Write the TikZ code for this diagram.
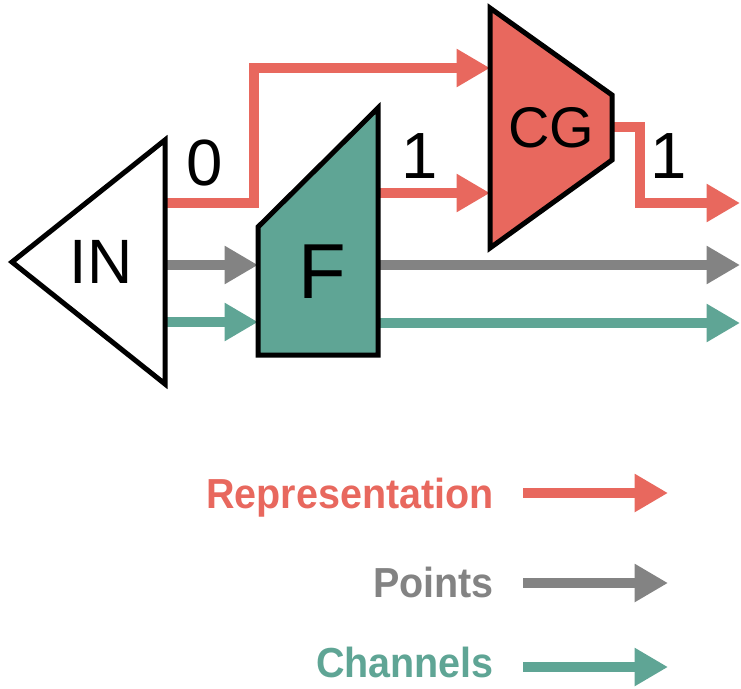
\documentclass[tikz,border=0pt]{standalone}
\usepackage{fontspec}
\usepackage{graphicx}
\setmainfont{Liberation Sans}
\usetikzlibrary{arrows.meta}
\definecolor{cred}{HTML}{E8685E}
\definecolor{cteal}{HTML}{5FA595}
\definecolor{cgray}{HTML}{838383}
\begin{document}
\begin{tikzpicture}[x=0.75pt,y=-0.75pt,
  flow/.style={line width=7.5pt,line join=miter,-{Triangle[length=25pt,width=27pt]}},
  block/.style={line width=3.75pt,line join=miter},
  lab/.style={inner sep=0pt,anchor=base},
  leg/.style={inner sep=0pt,anchor=base east,font=\fontsize{31.5pt}{34pt}\selectfont\bfseries}]
\useasboundingbox (0,0) rectangle (741,688);
% ports
\coordinate (inR) at (165,203);
\coordinate (inG) at (165,265);
\coordinate (inT) at (165,322);
\coordinate (fG) at (258,265);
\coordinate (fT) at (258,322);
\coordinate (fR) at (378,193);
\coordinate (fGo) at (378,265);
\coordinate (fTo) at (378,323);
\coordinate (cgA) at (490,68);
\coordinate (cgB) at (490,193);
\coordinate (cgO) at (612,127);
\coordinate (outR) at (740,203);
\coordinate (outG) at (740,265);
\coordinate (outT) at (740,323);
% connectors
\draw[flow,cred] (inR) -- (254,203) -- (254,68) -- (cgA);
\draw[flow,cred] (fR) -- (cgB);
\draw[flow,cred] (cgO) -- (640,127) -- (640,203) -- (outR);
\draw[flow,cgray] (inG) -- (fG);
\draw[flow,cteal] (inT) -- (fT);
\draw[flow,cgray] (fGo) -- (outG);
\draw[flow,cteal] (fTo) -- (outT);
% blocks
\draw[block,fill=white] (12,262) -- (165,140) -- (165,384) -- cycle;
\draw[block,fill=cteal] (258,227) -- (378,108) -- (378,355) -- (258,355) -- cycle;
\draw[block,fill=cred] (490,8) -- (612,95) -- (612,160) -- (490,248) -- cycle;
% labels
\node[lab,font=\fontsize{47pt}{52pt}\selectfont] (IN) at (101,283) {IN};
\node[lab,font=\fontsize{58.5pt}{64pt}\selectfont] (F) at (322,298) {F};
\node[lab,font=\fontsize{43pt}{48pt}\selectfont] (CG) at (551,147) {CG};
\node[lab,font=\fontsize{49pt}{54pt}\selectfont] (l0) at (205,185) {0};
\node[lab,font=\fontsize{49pt}{54pt}\selectfont] (l1) at (420,178) {1};
\node[lab,font=\fontsize{49pt}{54pt}\selectfont] (l2) at (669,178) {1};
% legend
\node[leg,text=cred] (legR) at (494,508) {\scalebox{0.94}[1]{Representation}};
\node[leg,text=cgray] (legP) at (494,597) {\scalebox{0.94}[1]{Points}};
\node[leg,text=cteal] (legC) at (494,677) {\scalebox{0.94}[1]{Channels}};
\coordinate (aR1) at (523,493); \coordinate (aR2) at (668,493);
\coordinate (aP1) at (523,583); \coordinate (aP2) at (668,583);
\coordinate (aC1) at (523,667); \coordinate (aC2) at (668,667);
\draw[flow,cred] (aR1) -- (aR2);
\draw[flow,cgray] (aP1) -- (aP2);
\draw[flow,cteal] (aC1) -- (aC2);
\end{tikzpicture}
\end{document}
